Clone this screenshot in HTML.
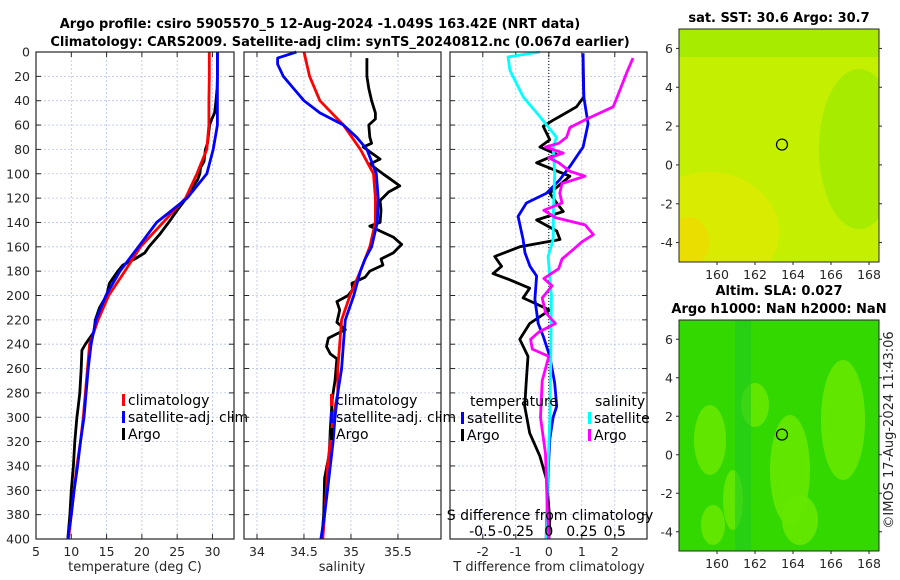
<!DOCTYPE html>
<html><head><meta charset="utf-8">
<style>
body{margin:0;background:#fff;}
svg{display:block;font-family:"DejaVu Sans","Liberation Sans",sans-serif;}
.tk{font-size:12.5px;fill:#262626;}
.lbl{font-size:13px;fill:#262626;}
.ttl{font-size:13px;font-weight:bold;fill:#000;}
.lg{font-size:14px;fill:#000;}
</style></head>
<body>
<svg id="fig" width="900" height="580" viewBox="0 0 900 580" xmlns="http://www.w3.org/2000/svg">
<text class="ttl" x="320" y="28" text-anchor="middle">Argo profile: csiro 5905570_5 12-Aug-2024 -1.049S 163.42E (NRT data)</text>
<text class="ttl" x="340" y="46" text-anchor="middle">Climatology: CARS2009. Satellite-adj clim: synTS_20240812.nc (0.067d earlier)</text>
<g id="maps"></g>
<g id="p1"></g><g id="p2"></g><g id="p3"></g>
<text class="lbl" x="0" y="0" transform="translate(893,430) rotate(-90)" text-anchor="middle">©IMOS 17-Aug-2024 11:43:06</text>
</svg>
<script>
// ---- data ----
const depthsClim = [0,20,40,60,80,100,120,140,160,180,200,220,240,260,280,300,320,340,360,380,400];
const tempClim = [29.55,29.55,29.5,29.5,29.2,27.8,26.2,23,19.8,17.6,15.3,13.8,12.6,12.3,12.0,11.7,11.3,10.8,10.4,10.0,9.6];
const tempSat = [30.7,30.7,30.7,30.7,30.1,29.2,26.4,22.1,19.5,16.9,14.9,13.5,12.8,12.4,12.1,11.8,11.3,10.9,10.4,10.0,9.5];
const depthsArgoT = [0,10,20,30,40,50,55,60,70,75,80,90,95,100,105,110,120,130,140,150,160,165,170,175,180,190,200,210,220,230,240,245,260,280,290,300,320,340,360,380,400];
const tempArgo = [30.7,30.7,30.7,30.65,30.5,30.3,29.9,29.6,29.4,29.3,29.0,28.8,28.3,28.2,27.9,27.3,26.3,25.0,23.8,22.5,21.0,20.4,19.0,17.3,16.6,15.4,15.0,14.0,13.4,13.2,12.0,11.5,11.4,11.2,11.0,10.8,10.5,10.3,10.0,9.8,9.5];
const depthsSClim = [0,10,20,40,60,80,100,120,140,160,180,200,220,240,260,280,300,320,340,360,380,400];
const salClim = [34.5,34.53,34.56,34.67,34.92,35.1,35.24,35.26,35.26,35.2,35.1,34.99,34.9,34.88,34.86,34.86,34.81,34.78,34.75,34.74,34.72,34.70];
const depthsSSat = [0,5,10,20,30,40,50,60,70,80,100,120,140,160,170,180,200,220,240,260,280,300,320,340,360,380,400];
const salSat = [34.42,34.22,34.22,34.28,34.39,34.5,34.67,34.92,35.06,35.17,35.27,35.29,35.28,35.22,35.15,35.1,35.03,34.94,34.92,34.9,34.86,34.83,34.81,34.78,34.75,34.72,34.68];
const depthsSArgo = [5,20,30,40,50,55,60,70,75,78,82,88,92,100,105,110,115,122,130,140,143,147,152,158,165,170,175,180,185,190,195,200,205,212,222,228,235,242,248,252,270,285,310,330,350,380,400];
const salArgo = [35.17,35.17,35.19,35.22,35.26,35.26,35.19,35.2,35.22,35.13,35.2,35.31,35.2,35.34,35.43,35.52,35.4,35.31,35.32,35.31,35.2,35.31,35.45,35.54,35.45,35.32,35.34,35.2,35.15,35.01,35.02,34.97,34.85,34.88,34.85,34.94,34.76,34.74,34.78,34.85,34.83,34.8,34.78,34.77,34.72,34.71,34.69];
const depthsDTSat = [1,17,37,59,78,94,105,116,124,135,154,165,176,184,203,223,234,250,272,291,300,318,346,384,400];
const dTSat = [1.04,1.04,1.06,1.19,1.04,0.64,0.33,-0.07,-0.68,-0.93,-0.78,-0.72,-0.57,-0.37,-0.42,-0.32,-0.16,0.03,0.18,0.24,0.13,0.03,-0.02,-0.07,-0.08];
const depthsDTArgo = [2,37,45,53,56,61,72,78,84,91,102,116,124,131,138,147,154,160,168,176,182,187,194,202,212,223,236,250,269,291,313,332,351,384,400];
const dTArgo = [1.04,1.06,0.84,0.33,0.13,-0.17,0.03,-0.27,0.24,-0.37,0.64,0.03,0.24,0.44,-0.37,0.24,0.34,-0.88,-1.64,-1.43,-1.69,-1.19,-0.58,-0.78,0.03,-0.58,-0.88,-0.63,-0.68,-0.73,-0.58,-0.27,-0.07,0.03,0.0];
const depthsDSSat = [0,4,15,37,53,70,78,100,130,154,168,200,250,300,350,400];
const dSSat = [-0.068,-0.308,-0.295,-0.193,-0.068,0.058,0.033,0.045,0.035,0.033,-0.005,0.02,0.015,0.008,-0.01,-0.018];
const depthsDSArgo = [5,17,35,45,55,62,70,75,78,83,87,91,98,102,108,116,124,130,136,142,150,156,162,170,178,186,192,202,214,223,230,236,244,250,270,300,330,370,400];
const dSArgo = [0.638,0.59,0.525,0.488,0.288,0.16,0.135,0.075,-0.025,0.11,0,0.075,0.16,0.275,0.1,0.083,0.1,-0.038,0.05,0.275,0.338,0.25,0.188,0.1,0.075,-0.038,0.025,-0.05,-0.025,0.05,-0.075,-0.138,-0.125,0,-0.05,-0.063,-0.025,-0.013,0];
const depthTicks = [0,20,40,60,80,100,120,140,160,180,200,220,240,260,280,300,320,340,360,380,400];
const tempTicks = [5,10,15,20,25,30];
const salTicks = [34,34.5,35,35.5];
const salTickLabels = ["34","34.5","35","35.5"];
const dTTicks = [-2,-1,0,1,2];
const dSTicks = [-0.5,-0.25,0,0.25,0.5];
const dSTickLabels = ["-0.5","-0.25","0","0.25","0.5"];
const latTicks = [-4,-2,0,2,4,6];
const lonTicks = [160,162,164,166,168];
const argoLon = 163.42, argoLat = 1.049;

const NS = "http://www.w3.org/2000/svg";
function mk(tag, attrs, parent){const e=document.createElementNS(NS,tag);for(const k in attrs)e.setAttribute(k,attrs[k]);parent.appendChild(e);return e;}
const Y0=52, Y1=539;
const yD = d => Y0 + d*(Y1-Y0)/400;

function panel(g, x0, x1, vmin, vmax, ticks, labels, name){
  const sx = v => x0 + (v-vmin)*(x1-x0)/(vmax-vmin);
  // grid
  ticks.forEach((t,i)=>{
    const l=mk('line',{x1:sx(t),x2:sx(t),y1:Y0,y2:Y1,stroke:'#b8c4ea','stroke-width':0.8,'stroke-dasharray':'2,2'},g);
    
    
  });
  depthTicks.forEach(d=>{
    const l=mk('line',{x1:x0,x2:x1,y1:yD(d),y2:yD(d),stroke:'#b8c4ea','stroke-width':0.8,'stroke-dasharray':'2,2'},g);
    
    
    mk('line',{x1:x0,x2:x0+5,y1:yD(d),y2:yD(d),stroke:'#262626'},g);
    mk('line',{x1:x1-5,x2:x1,y1:yD(d),y2:yD(d),stroke:'#262626'},g);
  });
  ticks.forEach((t,i)=>{
    mk('line',{x1:sx(t),x2:sx(t),y1:Y1,y2:Y1-5,stroke:'#262626'},g);
    mk('line',{x1:sx(t),x2:sx(t),y1:Y0,y2:Y0+5,stroke:'#262626'},g);
    const tx=mk('text',{x:sx(t),y:Y1+17,'text-anchor':'middle',class:'tk'},g);
    tx.textContent=labels[i];
    
    
  });
  return sx;
}
function line(g, sx, xs, ds, color, name, w){
  const p=mk('path',{d:xs.map((v,i)=>(i?'L':'M')+sx(v).toFixed(1)+','+yD(ds[i]).toFixed(1)).join(''),fill:'none',stroke:color,'stroke-width':w||2.8,'stroke-linejoin':'round'},g);
  
  
}
function frame(g,x0,x1,name){
  const r=mk('rect',{x:x0,y:Y0,width:x1-x0,height:Y1-Y0,fill:'none',stroke:'#262626','stroke-width':1.2},g);
  
  
}
function legend(g, x, y, items, name){
  items.forEach((it,i)=>{
    const yy=y+i*17;
    mk('rect',{x:x,y:yy-10,width:3,height:12,fill:it[1]},g);
    const t=mk('text',{x:x+6,y:yy+1,class:'lg'},g);
    t.textContent=it[0];
    
    
  });
}

// Panel 1 temperature
const g1=document.getElementById('p1');
const sT=panel(g1,36,234,5,33.05,tempTicks,tempTicks.map(String),'temp-panel');
depthTicks.forEach(d=>{const t=mk('text',{x:30,y:yD(d)+4.5,'text-anchor':'end',class:'tk'},g1);t.textContent=d;
 
 });
line(g1,sT,tempArgo,depthsArgoT,'#000','temp-argo-line');
line(g1,sT,tempClim,depthsClim,'#f00','temp-climatology-line');
line(g1,sT,tempSat,depthsClim,'#00f','temp-satellite-line');
frame(g1,36,234,'temp-panel');
legend(g1,122,404,[['climatology','#f00'],['satellite-adj. clim','#00f'],['Argo','#000']],'temp-legend');
{const t=mk('text',{x:135,y:571,'text-anchor':'middle',class:'lbl'},g1);t.textContent='temperature (deg C)';
 
 }

// Panel 2 salinity
const g2=document.getElementById('p2');
const sS=panel(g2,244,441,33.862,35.958,salTicks,salTickLabels,'sal-panel');
line(g2,sS,salArgo,depthsSArgo,'#000','sal-argo-line');
line(g2,sS,salClim,depthsSClim,'#f00','sal-climatology-line');
line(g2,sS,salSat,depthsSSat,'#00f','sal-satellite-line');
frame(g2,244,441,'sal-panel');
legend(g2,330,404,[['climatology','#f00'],['satellite-adj. clim','#00f'],['Argo','#000']],'sal-legend');
{const t=mk('text',{x:342,y:571,'text-anchor':'middle',class:'lbl'},g2);t.textContent='salinity';
 
 }

// Panel 3 differences
const g3=document.getElementById('p3');
const sD=panel(g3,450,647,-2.994,2.976,dTTicks,dTTicks.map(String),'diff-panel');
{const l=mk('line',{x1:sD(0),x2:sD(0),y1:Y0,y2:Y1,stroke:'#000','stroke-width':1,'stroke-dasharray':'1,2'},g3);
 
 }
const sDS = v => sD(v*4);
line(g3,sD,dTArgo,depthsDTArgo,'#000','dT-argo-line');
line(g3,sD,dTSat,depthsDTSat,'#00f','dT-satellite-line');
line(g3,sDS,dSSat,depthsDSSat,'#0ff','dS-satellite-line');
line(g3,sDS,dSArgo,depthsDSArgo,'#f0f','dS-argo-line');
frame(g3,450,647,'diff-panel');
{const t=mk('text',{x:470,y:406,class:'lg'},g3);t.textContent='temperature';
 
 
 const t2=mk('text',{x:595,y:406,class:'lg'},g3);t2.textContent='salinity';
 
 }
legend(g3,461,422,[['satellite','#00f'],['Argo','#000']],'dT-legend');
legend(g3,588,422,[['satellite','#0ff'],['Argo','#f0f']],'dS-legend');
{const t=mk('text',{x:550,y:520,'text-anchor':'middle',class:'lg'},g3);t.textContent='S difference from climatology';
 
 }
dSTicks.forEach((v,i)=>{const t=mk('text',{x:sDS(v),y:536,'text-anchor':'middle',class:'lg'},g3);t.textContent=dSTickLabels[i];
 
 });
{const t=mk('text',{x:549,y:571,'text-anchor':'middle',class:'lbl'},g3);t.textContent='T difference from climatology';
 
 }

// Maps
const gm=document.getElementById('maps');
function map(top, bottom, kind, name){
  const x0=679, x1=879;
  const lx = v => 717 + (v-160)*19;
  const ly = v => top + (7-v)*(bottom-top)/12;
  const defs=mk('defs',{},gm);
  const clip=mk('clipPath',{id:name+'-clip'},defs);
  mk('rect',{x:x0,y:top,width:x1-x0,height:bottom-top},clip);
  const g=mk('g',{'clip-path':'url(#'+name+'-clip)'},gm);
  
  
  if(kind==='sst'){
    mk('rect',{x:x0,y:top,width:200,height:bottom-top,fill:'#c4f000'},g);
    mk('rect',{x:x0,y:top,width:200,height:28,fill:'#9ae800',opacity:0.7},g);
    mk('ellipse',{cx:x0+30,cy:bottom-30,rx:70,ry:60,fill:'#dfea00',opacity:0.8},g);
    mk('ellipse',{cx:x1-20,cy:top+120,rx:40,ry:80,fill:'#9ae800',opacity:0.7},g);
    mk('ellipse',{cx:x0+10,cy:bottom-20,rx:20,ry:25,fill:'#f0d800',opacity:0.7},g);
  } else {
    mk('rect',{x:x0,y:top,width:200,height:bottom-top,fill:'#33d800'},g);
    [[710,140+top-20+ 0,16,35],[733,top+180,10,30],[790,top+150,20,55],[755,top+85,14,22],[843,top+100,22,60],[800,top+200,18,25],[713,top+205,12,20]].forEach(e=>{
      mk('ellipse',{cx:e[0],cy:e[1],rx:e[2],ry:e[3],fill:'#66e800',opacity:0.9},g);
    });
    mk('rect',{x:735,y:top,width:16,height:bottom-top,fill:'#22cc22',opacity:0.6},g);
  }
  const c=mk('circle',{cx:lx(argoLon),cy:ly(argoLat),r:5.5,fill:'none',stroke:'#000','stroke-width':1.2},gm);
  
  
  const r=mk('rect',{x:x0,y:top,width:x1-x0,height:bottom-top,fill:'none',stroke:'#262626','stroke-width':1},gm);
  
  
  latTicks.forEach(v=>{
    mk('line',{x1:x0,x2:x0-3,y1:ly(v),y2:ly(v),stroke:'#262626'},gm);
    mk('line',{x1:x1,x2:x1+3,y1:ly(v),y2:ly(v),stroke:'#262626'},gm);
    const t=mk('text',{x:x0-6,y:ly(v)+4.5,'text-anchor':'end',class:'tk'},gm);t.textContent=v;
    
    
  });
  lonTicks.forEach(v=>{
    mk('line',{x1:lx(v),x2:lx(v),y1:bottom,y2:bottom+3,stroke:'#262626'},gm);
    const t=mk('text',{x:lx(v),y:bottom+17,'text-anchor':'middle',class:'tk'},gm);t.textContent=v;
    
    
  });
}
map(29,262,'sst','sst-map');
map(320,551,'sla','sla-map');
[['sat. SST: 30.6 Argo: 30.7',779,22,'sst-map-title'],['Altim. SLA: 0.027',779,295,'sla-map-title-1'],['Argo h1000: NaN h2000: NaN',779,313,'sla-map-title-2']].forEach(a=>{
  const t=mk('text',{x:a[1],y:a[2],'text-anchor':'middle',class:'ttl'},gm);t.textContent=a[0];
  
  
});
</script>
</body></html>
